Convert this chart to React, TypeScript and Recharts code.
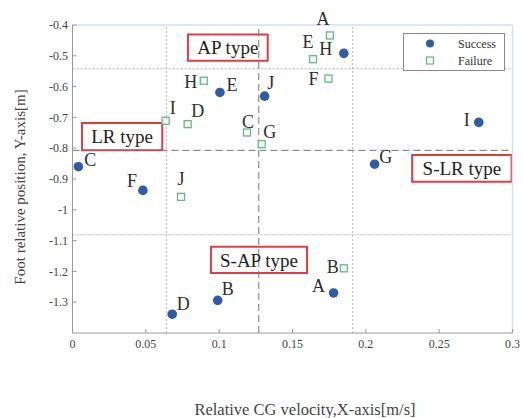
import React from "react";
import {
  ScatterChart,
  Scatter,
  XAxis,
  YAxis,
  ReferenceLine,
  ReferenceArea,
  Legend,
  Label,
} from "recharts";

const pointNames = ["A", "B", "C", "D", "E", "F", "G", "H", "I", "J"];
const successX = [0.178, 0.099, 0.004, 0.068, 0.1005, 0.048, 0.206, 0.185, 0.277, 0.131];
const successY = [-1.27, -1.294, -0.86, -1.339, -0.619, -0.937, -0.852, -0.492, -0.716, -0.631];
const failureX = [0.1755, 0.185, 0.119, 0.0785, 0.164, 0.1745, 0.129, 0.0895, 0.0635, 0.074];
const failureY = [-0.434, -1.19, -0.749, -0.722, -0.511, -0.574, -0.787, -0.581, -0.711, -0.958];

const xTicks = [0, 0.05, 0.1, 0.15, 0.2, 0.25, 0.3];
const yTicks = [-1.3, -1.2, -1.1, -1, -0.9, -0.8, -0.7, -0.6, -0.5, -0.4];

// region dividers
const dottedX = [0.064, 0.191];
const dashedX = [0.127];
const dottedY = [-0.542, -1.081];
const dashedY = [-0.807];

// type boxes: [label, x1, x2, y1, y2]
const typeBoxes: [string, number, number, number, number][] = [
  ["AP type", 0.0787, 0.1331, -0.516, -0.431],
  ["LR type", 0.0065, 0.0612, -0.807, -0.718],
  ["S-LR type", 0.2316, 0.2994, -0.909, -0.822],
  ["S-AP type", 0.0944, 0.1599, -1.205, -1.12],
];

// label offsets relative to the marker (px)
const successOffset: Record<string, [number, number]> = {
  A: [-15, -7], B: [10, -11], C: [12, -7], D: [11, -10], E: [12, -7],
  F: [-11, -9], G: [11, -7], H: [-18, -4], I: [-12, -2], J: [6, -13],
};
const failureOffset: Record<string, [number, number]> = {
  A: [-7, -16], B: [-11, -1], C: [1, -10], D: [10, -13], E: [-5, -17],
  F: [-15, 0], G: [8, -12], H: [-13, 1], I: [7, -13], J: [0, -18],
};

const successData = pointNames.map((n, i) => ({ name: n, x: successX[i], y: successY[i] }));
const failureData = pointNames.map((n, i) => ({ name: n, x: failureX[i], y: failureY[i] }));

const FONT = '"Liberation Serif", "Times New Roman", serif';
const BLUE = "#2f5ba7";
const GREEN = "#5dbb80";
const RED = "#e23b45";

function PointLabel({ x, y, text }: { x: number; y: number; text: string }) {
  return (
    <text x={x} y={y} textAnchor="middle" dominantBaseline="central" fontFamily={FONT} fontSize={18} fill="#2e2e2e">
      {text}
    </text>
  );
}

function SuccessShape(props: any) {
  const { cx, cy, payload } = props;
  const [dx, dy] = successOffset[payload.name];
  return (
    <g>
      <circle cx={cx} cy={cy} r={4.8} fill={BLUE} />
      <PointLabel x={cx + dx} y={cy + dy} text={payload.name} />
    </g>
  );
}

function FailureShape(props: any) {
  const { cx, cy, payload } = props;
  const [dx, dy] = failureOffset[payload.name];
  return (
    <g>
      <rect x={cx - 3.5} y={cy - 3.5} width={7} height={7} fill="#fff" stroke={GREEN} strokeWidth={1.3} />
      <PointLabel x={cx + dx} y={cy + dy} text={payload.name} />
    </g>
  );
}

function LegendBox() {
  return (
    <div
      style={{
        width: 100,
        height: 36,
        border: "1.5px solid #8a8a8a",
        background: "#fff",
        position: "relative",
      }}
    >
      <svg width={100} height={36} style={{ position: "absolute", left: 0, top: 0 }}>
        <circle cx={26} cy={9.5} r={4} fill={BLUE} />
        <rect x={22.5} y={23} width={7} height={7} fill="#fff" stroke={GREEN} strokeWidth={1.2} />
        <text x={54} y={10} dominantBaseline="central" fontFamily={FONT} fontSize={12} fill="#333">Success</text>
        <text x={54} y={27} dominantBaseline="central" fontFamily={FONT} fontSize={12} fill="#333">Failure</text>
      </svg>
    </div>
  );
}

export default function App() {
  const tickStyle = { fill: "#444", fontSize: 12, fontFamily: FONT };
  return (
    <div style={{ position: "absolute", left: 0, top: 0, background: "#fff" }}>
      <ScatterChart width={523} height={418} margin={{ top: 25, right: 10.5, left: 12.5, bottom: 0 }}>
        <XAxis
          type="number"
          dataKey="x"
          domain={[0, 0.3]}
          ticks={xTicks}
          tick={tickStyle}
          axisLine={{ stroke: "#999" }}
          tickLine={{ stroke: "#999" }}
          tickSize={-4}
          tickMargin={10}
          height={47}
        >
          <Label
            content={() => (
              <text x={305} y={409} textAnchor="middle" dominantBaseline="central" fontFamily={FONT} fontSize={16.5} fill="#444">
                Relative CG velocity,X-axis[m/s]
              </text>
            )}
          />
        </XAxis>
        <YAxis
          type="number"
          dataKey="y"
          domain={[-1.4, -0.4]}
          ticks={yTicks}
          tick={tickStyle}
          axisLine={{ stroke: "#999" }}
          tickLine={{ stroke: "#999" }}
          tickSize={-4}
          tickMargin={8.5}
          width={60}
        >
          <Label
            content={() => (
              <text
                x={20}
                y={187}
                textAnchor="middle"
                dominantBaseline="central"
                fontFamily={FONT}
                fontSize={15}
                fill="#444"
                transform="rotate(-90 20 187)"
              >
                Foot relative position, Y-axis[m]
              </text>
            )}
          />
        </YAxis>
        <ReferenceLine y={-0.4} stroke="#d5deee" strokeWidth={1.5} />
        <ReferenceLine x={0.3} stroke="#d5deee" strokeWidth={1.5} />
        {dottedX.map((v) => (
          <ReferenceLine key={"dx" + v} x={v} stroke="#b5b5b5" strokeDasharray="2 2" />
        ))}
        {dottedY.map((v) => (
          <ReferenceLine key={"dy" + v} y={v} stroke="#b5b5b5" strokeDasharray="2 2" />
        ))}
        {dashedX.map((v) => (
          <ReferenceLine key={"ax" + v} x={v} stroke="#777" strokeDasharray="7 4" />
        ))}
        {dashedY.map((v) => (
          <ReferenceLine key={"ay" + v} y={v} stroke="#777" strokeDasharray="7 4" />
        ))}
        {typeBoxes.map(([name, x1, x2, y1, y2]) => (
          <ReferenceArea
            key={name}
            x1={x1}
            x2={x2}
            y1={y1}
            y2={y2}
            fill="none"
            fillOpacity={0}
            stroke={RED}
            strokeWidth={2}
            label={{ value: name, position: "center", fontFamily: FONT, fontSize: 19, fill: "#222" }}
          />
        ))}
        <Scatter name="Success" data={successData} shape={SuccessShape} isAnimationActive={false} />
        <Scatter name="Failure" data={failureData} shape={FailureShape} isAnimationActive={false} />
        <Legend content={() => <LegendBox />} wrapperStyle={{ top: 33, left: 403, width: 103 }} />
      </ScatterChart>
    </div>
  );
}
